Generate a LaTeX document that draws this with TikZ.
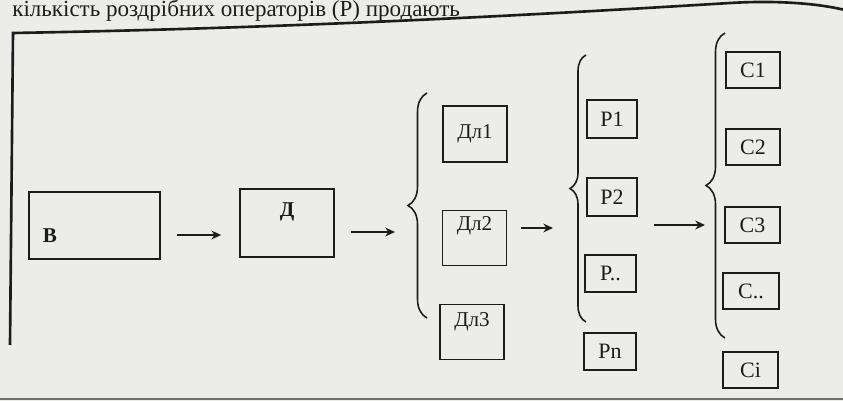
\documentclass[tikz,border=0pt]{standalone}
\usepackage{fontspec}
\setmainfont{Liberation Serif}
\usepackage{xcolor}
\usetikzlibrary{calc,positioning,arrows.meta,decorations.pathreplacing}
\definecolor{paper}{RGB}{236,236,233}
\definecolor{ink}{RGB}{28,28,28}
\definecolor{edgegray}{RGB}{110,110,110}

\begin{document}
\begin{tikzpicture}[x=0.2mm, y=-0.2mm,
  box/.style={draw=ink, line width=1pt, inner sep=0pt, text=ink,
    font=\fontsize{12.5}{14}\selectfont},
  lbl/.style={text=ink, inner sep=0pt, font=\fontsize{12}{14}\selectfont},
  arr/.style={-{Stealth[length=5.5pt, width=5pt]}, line width=1pt, ink},
  brc/.style={decorate, decoration={brace, amplitude=#1}, line width=0.9pt, ink},
]
  \useasboundingbox (0,0) rectangle (843,401);
  \fill[paper] (0,0) rectangle (843,401);

  % Page text and frame
  \node[anchor=base west, inner sep=0pt, text=ink,
    font=\fontsize{13.1}{15}\selectfont] (caption) at (12,17)
    {кількість роздрібних операторів (Р) продають};
  \draw[ink, line width=1.5pt] (10,345) -- (13,33)
    .. controls (300,28) and (550,14) .. (730,3)
    .. controls (780,0) and (820,4) .. (845,10);
  \draw[edgegray, line width=1.6pt] (0,399) -- (843,399);

  % Chain
  \node[box, minimum width=26.2mm, minimum height=13.4mm,
    label={[lbl, xshift=-8.9mm, yshift=-2.1mm]center:\textbf{B}}] (b) at (94.5,225.5) {};
  \node[box, minimum width=18.8mm, minimum height=13.6mm,
    label={[lbl, yshift=2.2mm]center:\textbf{Д}}] (d) at (287,223) {};

  % Wholesalers
  \node[box, minimum width=12.8mm, minimum height=11.2mm, font=\fontsize{12}{14}\selectfont]
    (dl1) at (475,134) {Дл1};
  \node[box, minimum width=12.8mm, minimum height=11mm,
    label={[lbl, yshift=2.4mm]center:Дл2}] (dl2) at (474.5,238) {};
  \node[box, minimum width=12.8mm, minimum height=11mm,
    label={[lbl, yshift=2mm]center:Дл3}] (dl3) at (472,332) {};

  % Retailers
  \node[box, minimum width=10mm, minimum height=7.6mm] (p1) at (612,119) {P1};
  \node[box, minimum width=10mm, minimum height=7.6mm] (p2) at (612,197) {P2};
  \node[box, minimum width=10.2mm, minimum height=7.4mm] (pdots) at (610.5,273.5) {P..};
  \node[box, minimum width=10.4mm, minimum height=7.4mm] (pn) at (610,351.5) {Pn};

  % Consumers
  \node[box, minimum width=10.8mm, minimum height=7.2mm] (c1) at (753,70) {C1};
  \node[box, minimum width=10.8mm, minimum height=7.2mm] (c2) at (753,147) {C2};
  \node[box, minimum width=11mm, minimum height=7.2mm] (c3) at (752.5,225) {C3};
  \node[box, minimum width=11.2mm, minimum height=7.2mm] (cdots) at (751,291) {C..};
  \node[box, minimum width=11mm, minimum height=7.2mm] (ci) at (750.5,370) {Ci};

  % Braces
  \coordinate (br1bot) at (427,318);
  \coordinate (br1top) at (427,93);
  \coordinate (br1tip) at ($(br1bot)!0.5!(br1top)+(-19,0)$);
  \coordinate (br2bot) at (586,322);
  \coordinate (br2top) at (586,55);
  \coordinate (br2tip) at ($(br2bot)!0.5!(br2top)+(-16,0)$);
  \coordinate (br3bot) at (725,338);
  \coordinate (br3top) at (725,33);
  \coordinate (br3tip) at ($(br3bot)!0.5!(br3top)+(-19,0)$);
  \draw[brc=3.8mm] (br1bot) -- (br1top);
  \draw[brc=3.2mm] (br2bot) -- (br2top);
  \draw[brc=3.8mm] (br3bot) -- (br3top);

  % Arrows
  \draw[arr, shorten <=3.2mm, shorten >=3.6mm]
    ($(b.east)+(0,9.5)$) -- ($(b.east -| d.west)+(0,9.5)$);
  \draw[arr, shorten <=3.2mm, shorten >=2.6mm]
    ($(d.east)+(0,9)$) -- ($(d.east -| br1tip)+(0,9)$);
  \draw[arr, shorten <=2.8mm, shorten >=3.4mm]
    ($(dl2.east)+(0,-10)$) -- ($(dl2.east -| br2tip)+(0,-10)$);
  \draw[arr, shorten <=3.2mm, shorten >=0.2mm]
    ($(p2.east)+(0,28)$) -- ($(p2.east -| br3tip)+(0,28)$);
\end{tikzpicture}
\end{document}
